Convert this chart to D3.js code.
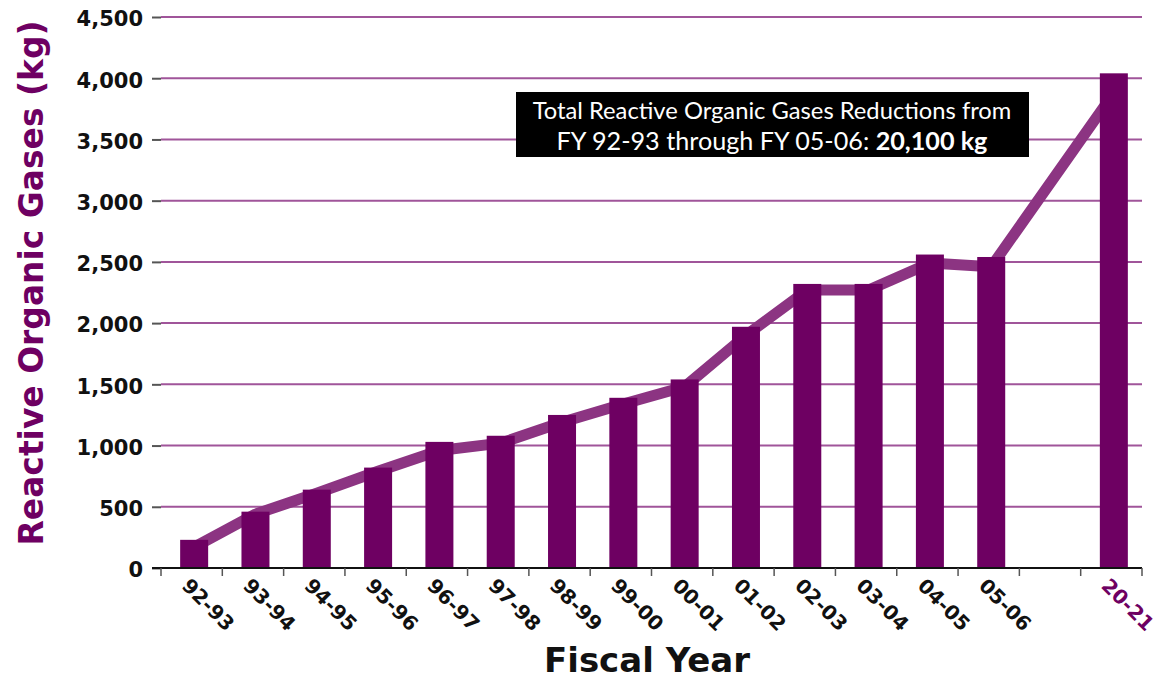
<!DOCTYPE html>
<html>
<head>
<meta charset="utf-8">
<script src="https://cdn.jsdelivr.net/npm/d3@7"></script>
<style>
  html, body { margin: 0; padding: 0; background: #ffffff; }
  svg { display: block; }
</style>
</head>
<body>
<svg id="chart" width="1160" height="679"></svg>
<script>
// ---- data ----
const categories = ["92-93","93-94","94-95","95-96","96-97","97-98","98-99","99-00","00-01","01-02","02-03","03-04","04-05","05-06","","20-21"];
const barValues  = [230, 460, 640, 820, 1030, 1080, 1250, 1390, 1540, 1970, 2320, 2320, 2560, 2540, null, 4040];
const lineValues = [170, 440, 610, 790, 960, 1020, 1190, 1340, 1480, 1900, 2270, 2270, 2490, 2460, null, 3880];
const yTicks = [0, 500, 1000, 1500, 2000, 2500, 3000, 3500, 4000, 4500];
const highlightCategory = "20-21";
const yTitle = "Reactive Organic Gases (kg)";
const xTitle = "Fiscal Year";
const noteLine1 = "Total Reactive Organic Gases Reductions from";
const noteLine2a = "FY 92-93 through FY 05-06: ";
const noteLine2b = "20,100 kg";

// ---- styles ----
const BAR = "#6e0062";
const LINE = "#8c3482";
const GRID = "#a0559a";
const FONT = "'DejaVu Sans', sans-serif";

const svg = d3.select("#chart");
const pLeft = 161, pRight = 1142, pTop = 17, pBottom = 568;

const x = d3.scaleBand().domain(categories).range([pLeft, pRight]).paddingInner(0).paddingOuter(0);
const y = d3.scaleLinear().domain([0, 4500]).range([pBottom, pTop]);
const barW = 28, barShift = 2.5;

// gridlines
svg.append("g").selectAll("line").data(yTicks.filter(d => d > 0)).join("line")
  .attr("x1", pLeft).attr("x2", pRight)
  .attr("y1", d => y(d)).attr("y2", d => y(d))
  .attr("stroke", GRID).attr("stroke-width", 2);

// y axis ticks + labels
const yAxis = d3.axisLeft(y).tickValues(yTicks).tickSize(9).tickPadding(9).tickFormat(d3.format(","));
const yg = svg.append("g").attr("transform", `translate(${pLeft},0)`).call(yAxis);
yg.select(".domain").remove();
yg.selectAll(".tick line").attr("stroke", "#555").attr("stroke-width", 2);
yg.selectAll(".tick text")
  .attr("font-family", FONT).attr("font-weight", "bold").attr("font-size", 21)
  .attr("fill", "#111").attr("dy", "0.42em");

// trend line (behind bars)
const lineData = categories.map((c, i) => ({c, v: lineValues[i]})).filter(d => d.v != null);
svg.append("path").datum(lineData)
  .attr("fill", "none").attr("stroke", LINE).attr("stroke-width", 11).attr("stroke-linejoin", "round")
  .attr("d", d3.line().x(d => x(d.c) + x.bandwidth() / 2 + barShift).y(d => y(d.v)));

// bars
const barData = categories.map((c, i) => ({c, v: barValues[i]})).filter(d => d.v != null);
svg.append("g").selectAll("rect").data(barData).join("rect")
  .attr("x", d => x(d.c) + x.bandwidth() / 2 - barW / 2 + barShift)
  .attr("width", barW)
  .attr("y", d => y(d.v))
  .attr("height", d => y(0) - y(d.v))
  .attr("fill", BAR);

// x axis
const xg = svg.append("g").attr("transform", `translate(0,${pBottom})`);
xg.append("line").attr("x1", 152).attr("x2", pRight).attr("y1", 0).attr("y2", 0)
  .attr("stroke", "#111").attr("stroke-width", 2);
const boundaries = categories.map(c => x(c)).concat([pRight]);
xg.selectAll("line.tk").data(boundaries).join("line").attr("class", "tk")
  .attr("x1", d => d).attr("x2", d => d).attr("y1", 0).attr("y2", 8)
  .attr("stroke", "#555").attr("stroke-width", 1.5);
xg.selectAll("text").data(categories.filter(c => c !== "")).join("text")
  .attr("transform", d => `translate(${x(d) + x.bandwidth() / 2 - 11},19) rotate(45)`)
  .attr("font-family", FONT).attr("font-weight", "bold").attr("font-size", 20)
  .attr("fill", d => d === highlightCategory ? BAR : "#111")
  .text(d => d);

// axis titles
svg.append("text")
  .attr("x", 647).attr("y", 672).attr("text-anchor", "middle")
  .attr("font-family", FONT).attr("font-weight", "bold").attr("font-size", 34)
  .attr("fill", "#111").text(xTitle);

svg.append("text")
  .attr("transform", "translate(43,283) rotate(-90)")
  .attr("text-anchor", "middle")
  .attr("font-family", FONT).attr("font-weight", "bold").attr("font-size", 34)
  .attr("textLength", 525).attr("lengthAdjust", "spacingAndGlyphs")
  .attr("fill", BAR).text(yTitle);

// annotation box
const note = svg.append("g");
note.append("rect").attr("x", 516).attr("y", 92).attr("width", 513).attr("height", 65).attr("fill", "#000");
const t1 = note.append("text").attr("x", 772).attr("y", 119).attr("text-anchor", "middle")
  .attr("font-family", "Lato, sans-serif").attr("font-size", 23).attr("fill", "#fff").text(noteLine1);
const t2 = note.append("text").attr("x", 772).attr("y", 150).attr("text-anchor", "middle")
  .attr("font-family", "Lato, sans-serif").attr("font-size", 23).attr("fill", "#fff");
t2.append("tspan").text(noteLine2a);
t2.append("tspan").attr("font-weight", "bold").text(noteLine2b);
// fit widths to the reference lines
function fit(t, w) {
  const L = t.node().getComputedTextLength();
  const fs = +t.attr("font-size");
  t.attr("font-size", fs * w / L);
}
fit(t1, 479);
fit(t2, 431);
</script>
</body>
</html>
